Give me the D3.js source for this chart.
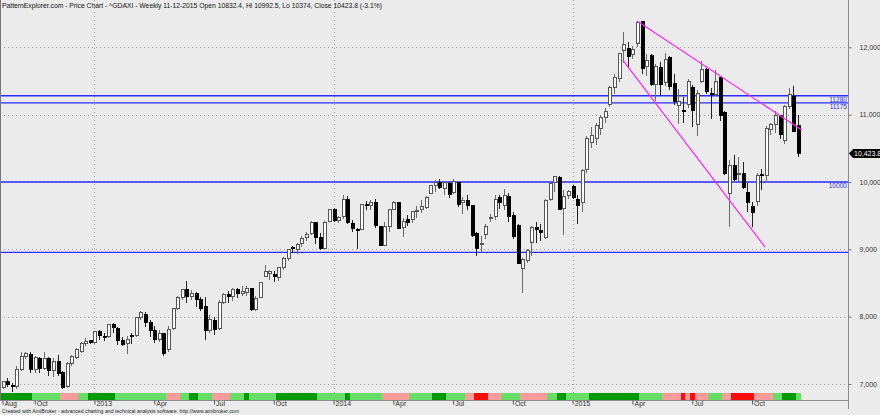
<!DOCTYPE html>
<html><head><meta charset="utf-8">
<script src="https://cdn.jsdelivr.net/npm/d3@7"></script>
<style>html,body{margin:0;padding:0;background:#ebebeb;overflow:hidden}svg{display:block;font-family:"Liberation Sans",Arial,sans-serif}</style>
</head><body><svg id="c" width="880" height="415"></svg>
<script>
// ---- DATA ----
const dates = [
"2012-08-17","2012-08-24","2012-08-31","2012-09-07","2012-09-14","2012-09-21","2012-09-28","2012-10-05","2012-10-12","2012-10-19",
"2012-10-26","2012-11-02","2012-11-09","2012-11-16","2012-11-23","2012-11-30","2012-12-07","2012-12-14","2012-12-21","2012-12-28",
"2013-01-04","2013-01-11","2013-01-18","2013-01-25","2013-02-01","2013-02-08","2013-02-15","2013-02-22","2013-03-01","2013-03-08",
"2013-03-15","2013-03-22","2013-03-28","2013-04-05","2013-04-12","2013-04-19","2013-04-26","2013-05-03","2013-05-10","2013-05-17",
"2013-05-24","2013-05-31","2013-06-07","2013-06-14","2013-06-21","2013-06-28","2013-07-05","2013-07-12","2013-07-19","2013-07-26",
"2013-08-02","2013-08-09","2013-08-16","2013-08-23","2013-08-30","2013-09-06","2013-09-13","2013-09-20","2013-09-27","2013-10-04",
"2013-10-11","2013-10-18","2013-10-25","2013-11-01","2013-11-08","2013-11-15","2013-11-22","2013-11-29","2013-12-06","2013-12-13",
"2013-12-20","2013-12-27","2014-01-03","2014-01-10","2014-01-17","2014-01-24","2014-01-31","2014-02-07","2014-02-14","2014-02-21",
"2014-02-28","2014-03-07","2014-03-14","2014-03-21","2014-03-28","2014-04-04","2014-04-11","2014-04-17","2014-04-25","2014-05-02",
"2014-05-09","2014-05-16","2014-05-23","2014-05-30","2014-06-06","2014-06-13","2014-06-20","2014-06-27","2014-07-04","2014-07-11",
"2014-07-18","2014-07-25","2014-08-01","2014-08-08","2014-08-15","2014-08-22","2014-08-29","2014-09-05","2014-09-12","2014-09-19",
"2014-09-26","2014-10-03","2014-10-10","2014-10-17","2014-10-24","2014-10-31","2014-11-07","2014-11-14","2014-11-21","2014-11-28",
"2014-12-05","2014-12-12","2014-12-19","2014-12-23","2015-01-02","2015-01-09","2015-01-16","2015-01-23","2015-01-30","2015-02-06",
"2015-02-13","2015-02-20","2015-02-27","2015-03-06","2015-03-13","2015-03-20","2015-03-27","2015-04-02","2015-04-10","2015-04-17",
"2015-04-24","2015-05-01","2015-05-08","2015-05-15","2015-05-22","2015-05-29","2015-06-05","2015-06-12","2015-06-19","2015-06-26",
"2015-07-03","2015-07-10","2015-07-17","2015-07-24","2015-07-31","2015-08-07","2015-08-14","2015-08-21","2015-08-28","2015-09-04",
"2015-09-11","2015-09-18","2015-09-25","2015-10-02","2015-10-09","2015-10-16","2015-10-23","2015-10-30","2015-11-06","2015-11-13",
"2015-11-20","2015-11-27","2015-12-04","2015-12-11"];

const opens = [
6945,7030,6985,6960,7220,7405,7440,7210,7385,7235, 7380,7200,7330,7165,6960,7300,7400,7480,7600,7640,
7610,7775,7710,7705,7880,7830,7650,7595,7720,7715, 7990,8030,7910,7790,7660,7745,7510,7830,8120,8280,
8400,8300,8340,8250,8150,7800,7950,7820,8215,8330, 8300,8400,8340,8360,8420,8110,8280,8600,8640,8620,
8580,8730,8870,9020,9000,9080,9170,9230,9400,9170, 9010,9420,9590,9430,9480,9740,9390,9300,9295,9660,
9650,9690,9340,9060,9340,9590,9690,9320,9450,9440, 9560,9590,9620,9830,9950,9990,9900,9980,9840,9990,
9700,9720,9650,9230,9090,9220,9460,9490,9770,9650, 9780,9500,9350,8720,8830,9100,9320,9280,9170,9740,
9990,10060,9600,9800,9930,9740,9690,10180,10590,10650, 10800,10960,11150,11400,11530,11950,11980,11890,12050,12380,
11720,11880,11450,11700,11480,11850,11460,11130,11060,11150, 11400,10850,11490,11670,11320,11300,11550,11030,9830,10250,
10110,10120,9850,9630,9710,10110,10090,10780,10860,10990, 10610,11120,11270,10832.4];

const highs = [
7040,7085,7010,7260,7480,7480,7470,7420,7400,7480, 7400,7390,7430,7190,7320,7430,7540,7620,7680,7660,
7790,7800,7760,7890,7900,7850,7700,7720,7760,8000, 8080,8070,7950,7860,7800,7760,7860,8130,8300,8410,
8530,8400,8370,8290,8290,8020,8000,8240,8350,8380, 8420,8420,8460,8450,8430,8300,8520,8770,8690,8680,
8740,8880,9000,9050,9090,9200,9260,9420,9410,9240, 9420,9600,9620,9500,9800,9795,9440,9320,9680,9720,
9730,9740,9350,9400,9600,9720,9700,9460,9510,9570, 9650,9730,9790,9960,10030,10050,10010,10000,10050,10000,
9780,9800,9660,9260,9200,9380,9520,9800,9800,9890, 9830,9560,9380,8870,9000,9340,9400,9380,9740,9990,
10090,10090,9880,9880,9950,9800,10200,10680,10810,10870, 11000,11100,11420,11600,11910,12220,12080,12020,12390,12390,
11900,11900,11750,11780,11920,11870,11600,11380,11260,11530, 11440,11360,11800,11700,11400,11670,11580,11060,10330,10400,
10370,10300,9990,9700,10130,10200,10830,10880,11060,11000, 11150,11400,11430,10992.5];

const lows = [
6920,6960,6880,6930,7200,7370,7170,7170,7160,7210, 7120,7110,7120,6930,6940,7270,7370,7460,7560,7590,
7600,7650,7640,7690,7760,7580,7560,7450,7600,7700, 7950,7850,7700,7610,7620,7420,7480,7800,8100,8250,
8200,8240,8140,8080,7650,7750,7730,7800,8190,8200, 8230,8270,8300,8300,8090,8090,8270,8590,8550,8520,
8530,8700,8830,8950,8930,9040,9130,9210,9080,8990, 9000,9400,9400,9390,9450,9370,9250,9010,9280,9590,
9580,9320,9050,9050,9260,9580,9300,9180,9350,9390, 9470,9540,9600,9820,9850,9900,9800,9760,9820,9630,
9530,9590,9190,8900,8950,9150,9400,9440,9600,9590, 9400,9150,8780,8355,8790,8900,9100,9120,9150,9720,
9850,9580,9220,9740,9740,9380,9560,10140,10500,10550, 10700,10870,11120,11300,11480,11770,11700,11830,12000,11600,
11580,11420,11200,11280,11420,11360,11150,10860,10880,11100, 10820,10680,11470,11300,10940,11270,10900,10110,9338,10010,
9990,9890,9550,9325,9640,9880,9990,10700,10720,10640, 10570,11080,10740,10374];

const closes = [
7030,6990,6975,7214,7412,7451,7216,7398,7233,7380, 7203,7335,7163,6950,7309,7405,7518,7597,7636,7612,
7776,7715,7702,7880,7833,7652,7593,7661,7708,7986, 8058,7913,7795,7659,7744,7459,7815,8122,8278,8399,
8305,8348,8254,8128,7789,7959,7806,8213,8331,8298, 8410,8338,8367,8416,8104,8276,8510,8675,8665,8600,
8725,8869,9001,9010,9079,9168,9225,9405,9172,9006, 9400,9589,9435,9473,9742,9392,9306,9290,9662,9656,
9692,9350,9056,9342,9587,9695,9315,9409,9401,9556, 9581,9630,9768,9943,9987,9912,9987,9815,10009,9666,
9720,9644,9210,9010,9092,9339,9470,9747,9691,9799, 9490,9195,8788,8850,8988,9326,9291,9252,9732,9980,
10087,9594,9787,9865,9765,9648,10168,10649,10694,10846, 10963,11050,11402,11551,11901,12040,11868,11967,12375,11689,
11811,11454,11709,11447,11815,11413,11197,11196,11041,11492, 11058,11316,11673,11347,11308,11490,10985,10124,10250,10038,
10123,9916,9688,9553,10096,10104,10795,10850,10988,10708, 11119,11293,10752,10423.8];

// bottom state strip: runs of [state, number of bars]
const stripRuns = [["D",7],["L",6],["P",4],["L",2],["D",6],["L",11],["P",3],["L",2],["D",2],["L",3],["P",4],["L",3],["D",1],["L",6],
["D",9],["L",6],["D",1],["L",7],["P",6],["L",5],["D",3],["L",4],["P",2],["R",3],["P",3],["L",4],["P",6],["L",2],["D",2],["L",5],
["D",11],["L",5],["P",4],["R",1],["P",1],["R",1],["P",3],["L",3],["P",2],["R",5],["P",4],["L",2],["D",3],["L",1]];
const stripColors = {D:"#009a00", L:"#66dd66", P:"#fb9c9c", R:"#ff0d0d"};

const tickDates  = ["2012-08-17","2012-10-05","2013-01-04","2013-04-05","2013-07-05","2013-10-04","2014-01-03","2014-04-04","2014-07-04","2014-10-03","2015-01-02","2015-04-02","2015-07-03","2015-10-02"];
const tickLabels = ["Aug","Oct","2013","Apr","Jul","Oct","2014","Apr","Jul","Oct","2015","Apr","Jul","Oct"];
const yearGridDates = ["2013-01-04","2014-01-03","2015-01-02"];
const yTicks = [7000,8000,9000,10000,11000,12000];

const hLevels = [11280, 11175, 10000, 8955];
const hLabels = ["11280","11175","10000",""];

// trendlines: [bar index, price] pairs
const trendUpper = [[138, 12390],[173.8, 10771]];
const trendLower = [[134.9, 11811],[165.8, 9034]];

const titleText = "PatternExplorer.com - Price Chart - ^GDAXI - Weekly 11-12-2015 Open 10832.4, Hi 10992.5, Lo 10374, Close 10423.8 (-3.1%)";
const footerText = "Created with AmiBroker - advanced charting and technical analysis software. http://www.amibroker.com";
const lastPrice = 10423.8;

// ---- CHART ----
const svg = d3.select("#c");
const plotRight = 848, stripTop = 393, stripBottom = 400;
const x = d3.scaleLinear().domain([0, dates.length - 1]).range([2.5, 798]);
const step = x(1) - x(0);
const y = d3.scaleLinear().domain([7000, 12000]).range([384, 47.3]);
const idx = d => dates.indexOf(d);

// grid
const grid = svg.append("g").attr("stroke", "#9c9c9c").attr("stroke-dasharray", "1,3").attr("stroke-width", 1);
grid.selectAll("line.h").data(yTicks).join("line")
  .attr("x1", 0).attr("x2", plotRight).attr("y1", d => Math.round(y(d)) + 0.5).attr("y2", d => Math.round(y(d)) + 0.5);
grid.selectAll("line.v").data(yearGridDates).join("line")
  .attr("x1", d => Math.round(x(idx(d))) + 0.5).attr("x2", d => Math.round(x(idx(d))) + 0.5)
  .attr("y1", 0).attr("y2", stripTop);

// horizontal levels
svg.append("g").selectAll("line").data(hLevels).join("line")
  .attr("x1", 0).attr("x2", plotRight)
  .attr("y1", d => y(d)).attr("y2", d => y(d))
  .attr("stroke", "#2b2bff").attr("stroke-width", 1.4);
svg.append("g").selectAll("text").data(hLevels).join("text")
  .attr("x", plotRight - 1).attr("y", d => y(d) + 6.2)
  .attr("text-anchor", "end").attr("font-size", "6.6px").attr("fill", "#3030e0")
  .text((d, i) => hLabels[i]);

// candles
const cg = svg.append("g").attr("shape-rendering", "crispEdges");
const bars = dates.map((d, i) => ({i, o: opens[i], h: highs[i], l: lows[i], c: closes[i]}));
cg.selectAll("line").data(bars).join("line")
  .attr("x1", d => Math.round(x(d.i)) + 0.5).attr("x2", d => Math.round(x(d.i)) + 0.5)
  .attr("y1", d => y(d.h)).attr("y2", d => y(d.l))
  .attr("stroke", d => d.c >= d.o ? "#6a6a6a" : "#222").attr("stroke-width", 1);
cg.selectAll("rect").data(bars).join("rect")
  .attr("x", d => Math.round(x(d.i)) - 1)
  .attr("width", 3)
  .attr("y", d => y(Math.max(d.o, d.c)))
  .attr("height", d => Math.max(1, y(Math.min(d.o, d.c)) - y(Math.max(d.o, d.c))))
  .attr("fill", d => d.c >= d.o ? "#ffffff" : "#000000")
  .attr("stroke", d => d.c >= d.o ? "#555" : "#000").attr("stroke-width", 1);

// trendlines
const line = d3.line().x(d => x(d[0])).y(d => y(d[1]));
[trendUpper, trendLower].forEach(t => svg.append("path").attr("d", line(t))
  .attr("fill", "none").attr("stroke", "#ff22ff").attr("stroke-width", 1.2));

// strip
const states = stripRuns.flatMap(([s, n]) => Array(n).fill(s));
svg.append("g").attr("shape-rendering", "crispEdges").selectAll("rect").data(states).join("rect")
  .attr("x", (d, i) => x(i) - step / 2).attr("width", step + 0.3)
  .attr("y", stripTop).attr("height", stripBottom - stripTop)
  .attr("fill", d => stripColors[d]);

// frame
svg.append("line").attr("x1", 0).attr("x2", plotRight).attr("y1", stripBottom + 0.5).attr("y2", stripBottom + 0.5).attr("stroke", "#8a8a8a");
svg.append("line").attr("x1", plotRight + 0.5).attr("x2", plotRight + 0.5).attr("y1", 0).attr("y2", 409).attr("stroke", "#8a8a8a");
svg.append("line").attr("x1", 0.5).attr("x2", 0.5).attr("y1", 0).attr("y2", stripBottom).attr("stroke", "#777");

// y axis
const yAxis = d3.axisRight(y).tickValues(yTicks).tickSize(3).tickPadding(8).tickFormat(d3.format(","));
const ya = svg.append("g").attr("transform", `translate(${plotRight + 0.5},0)`).call(yAxis);
ya.select(".domain").remove();
ya.selectAll("line").attr("stroke", "#777");
ya.selectAll("text").attr("font-size", "7px").attr("fill", "#333").attr("font-family", "Liberation Sans, Arial, sans-serif");

// x axis
const xAxis = d3.axisBottom(x).tickValues(tickDates.map(idx)).tickSize(4).tickFormat((d, i) => tickLabels[i]);
const xa = svg.append("g").attr("transform", `translate(0,${stripBottom + 0.5})`).call(xAxis);
xa.select(".domain").remove();
xa.selectAll("line").attr("stroke", "#555");
xa.selectAll("text").attr("font-size", "7px").attr("fill", "#333").attr("text-anchor", "start")
  .attr("font-family", "Liberation Sans, Arial, sans-serif").attr("dx", 1.5).attr("y", 1).attr("dy", "0.71em");

// price tag
const py = y(lastPrice);
svg.append("path").attr("d", `M${plotRight + 1},${py} L${plotRight + 5},${py - 4.5} L880,${py - 4.5} L880,${py + 4.5} L${plotRight + 5},${py + 4.5} Z`).attr("fill", "#000");
svg.append("text").attr("x", plotRight + 6).attr("y", py + 2.5).attr("font-size", "7px").attr("fill", "#fff").text(d3.format(",.1f")(lastPrice));

// title & footer
svg.append("text").attr("x", 2).attr("y", 7.6).attr("font-size", "7.3px").attr("fill", "#111")
  .attr("textLength", 380).attr("lengthAdjust", "spacingAndGlyphs").text(titleText);
svg.append("text").attr("x", 2).attr("y", 413.3).attr("font-size", "5.6px").attr("fill", "#222")
  .attr("textLength", 237).attr("lengthAdjust", "spacingAndGlyphs").text(footerText);
</script></body></html>
